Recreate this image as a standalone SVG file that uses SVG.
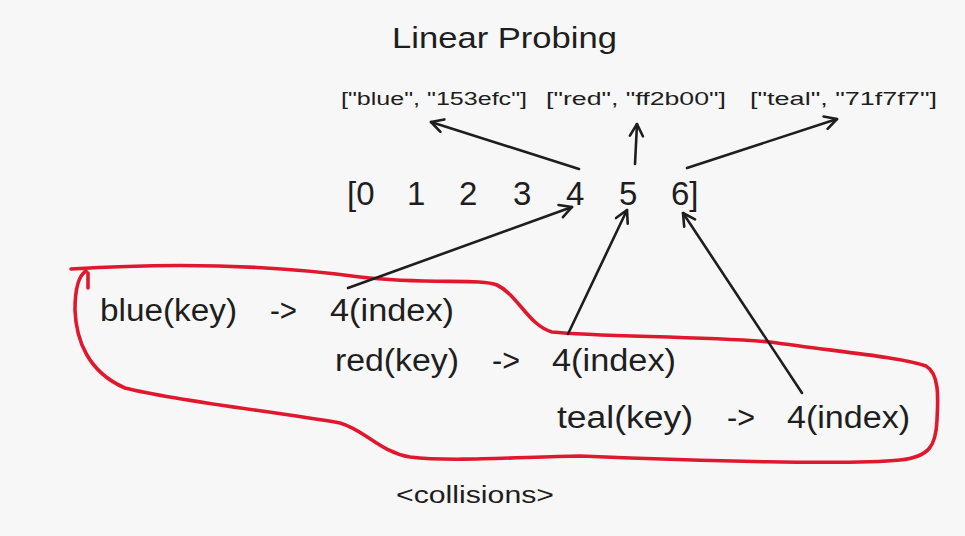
<svg xmlns="http://www.w3.org/2000/svg" width="965" height="536" viewBox="0 0 965 536">
  <style>
    .t { font-family: "Liberation Sans", "DejaVu Sans", sans-serif; fill: #1e1e1e; }
    .title { font-size: 29px; }
    .lbl { font-size: 18px; }
    .arr { font-size: 33px; }
    .row { font-size: 31px; }
    .note { font-size: 23px; }
    .edge { fill: none; stroke: #1e1e1e; stroke-width: 2.6; stroke-linecap: round; marker-end: url(#ah); }
    .loop { fill: none; stroke: #e0182d; stroke-width: 3.6; stroke-linecap: round; stroke-linejoin: round; }
  </style>
  <defs>
    <marker id="ah" markerUnits="userSpaceOnUse" markerWidth="18" markerHeight="18" refX="14" refY="8" orient="auto">
      <path d="M2,1.5 L14,8 L2,14.5" fill="none" stroke="#1e1e1e" stroke-width="2.6" stroke-linecap="round" stroke-linejoin="round"/>
    </marker>
  </defs>
  <rect width="965" height="536" fill="#f7f7f7"/>

  <g id="title">
    <text class="t title" x="392" y="48" textLength="225" lengthAdjust="spacingAndGlyphs">Linear Probing</text>
  </g>

  <g id="entry-blue">
    <text class="t lbl" x="341" y="105" textLength="186" lengthAdjust="spacingAndGlyphs">["blue", "153efc"]</text>
  </g>
  <g id="entry-red">
    <text class="t lbl" x="546" y="105" textLength="180" lengthAdjust="spacingAndGlyphs">["red", "ff2b00"]</text>
  </g>
  <g id="entry-teal">
    <text class="t lbl" x="750" y="105" textLength="187" lengthAdjust="spacingAndGlyphs">["teal", "71f7f7"]</text>
  </g>

  <g id="array">
    <text class="t arr" y="205"><tspan x="347">[0</tspan><tspan x="407">1</tspan><tspan x="459">2</tspan><tspan x="513">3</tspan><tspan x="566">4</tspan><tspan x="619">5</tspan><tspan x="671">6]</tspan></text>
  </g>

  <g id="row-blue">
    <text class="t row" y="321"><tspan x="100" textLength="137" lengthAdjust="spacingAndGlyphs">blue(key)</tspan><tspan x="270" textLength="27" lengthAdjust="spacingAndGlyphs">-&gt;</tspan><tspan x="330" textLength="124" lengthAdjust="spacingAndGlyphs">4(index)</tspan></text>
  </g>
  <g id="row-red">
    <text class="t row" y="371"><tspan x="335" textLength="124" lengthAdjust="spacingAndGlyphs">red(key)</tspan><tspan x="492" textLength="28" lengthAdjust="spacingAndGlyphs">-&gt;</tspan><tspan x="552" textLength="124" lengthAdjust="spacingAndGlyphs">4(index)</tspan></text>
  </g>
  <g id="row-teal">
    <text class="t row" y="428"><tspan x="557" textLength="136" lengthAdjust="spacingAndGlyphs">teal(key)</tspan><tspan x="727" textLength="28" lengthAdjust="spacingAndGlyphs">-&gt;</tspan><tspan x="787" textLength="123" lengthAdjust="spacingAndGlyphs">4(index)</tspan></text>
  </g>

  <g id="collisions">
    <text class="t note" x="396" y="503" textLength="158" lengthAdjust="spacingAndGlyphs">&lt;collisions&gt;</text>
  </g>

  <g id="collision-loop">
    <path class="loop" d="M71,269 C150,264 250,262 360,277 C430,285 480,278 497,285 C518,295 528,325 552,332 C600,337 700,336 770,342 C840,352 900,357 926,366 C940,374 938,400 937,420 C936,445 930,457 900,460 C850,465 700,461 580,456 C520,457 450,462 410,457 C380,452 365,430 340,423 C280,412 180,402 125,388 C88,372 76,340 75,310 C75,290 78,276 86,271"/>
    <path class="loop" d="M88,273 L88,288"/>
  </g>

  <g id="connectors">
    <path class="edge" d="M579,169 L431,122"/>
    <path class="edge" d="M635,164 L637,124"/>
    <path class="edge" d="M687,168 L837,119"/>
    <path class="edge" d="M348,288 L572,207"/>
    <path class="edge" d="M568,334 L627,210"/>
    <path class="edge" d="M802,393 L683,213"/>
  </g>
</svg>
